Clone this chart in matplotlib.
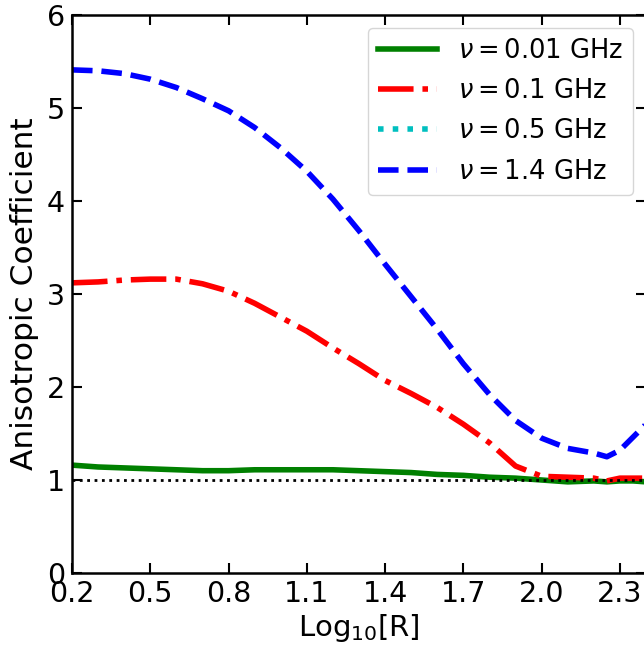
import matplotlib
matplotlib.use("Agg")
import matplotlib.pyplot as plt

# log10(R) grid
log_r = [0.2, 0.3, 0.4, 0.5, 0.6, 0.7, 0.8, 0.9, 1.0, 1.1, 1.2, 1.3, 1.4, 1.5,
         1.6, 1.7, 1.8, 1.9, 2.0, 2.1, 2.2, 2.25, 2.3, 2.35, 2.4]

# anisotropic coefficient per frequency
nu_001 = [1.16, 1.14, 1.13, 1.12, 1.11, 1.10, 1.10, 1.11, 1.11, 1.11, 1.11, 1.10,
          1.09, 1.08, 1.06, 1.05, 1.03, 1.02, 1.00, 0.98, 0.99, 0.98, 0.99, 0.99, 0.98]
nu_01 = [3.12, 3.13, 3.15, 3.16, 3.16, 3.11, 3.03, 2.90, 2.75, 2.60, 2.42, 2.25,
         2.07, 1.93, 1.78, 1.60, 1.40, 1.15, 1.04, 1.03, 1.02, 0.99, 1.02, 1.02, 1.02]
nu_05 = []  # not visible in the plotted range
nu_14 = [5.41, 5.40, 5.37, 5.31, 5.22, 5.10, 4.97, 4.79, 4.57, 4.32, 4.02, 3.68,
         3.32, 2.97, 2.62, 2.25, 1.92, 1.64, 1.45, 1.34, 1.29, 1.25, 1.32, 1.46, 1.60]

fig = plt.figure(figsize=(6.44, 6.46), dpi=100)
ax = fig.add_axes([72 / 644, 73 / 646, 574 / 644, 558 / 646])

lw = 4
ax.plot(log_r, nu_001, color='g', ls='-', lw=lw, label=r'$\nu = 0.01$ GHz')
ax.plot(log_r, nu_01, color='r', ls='-.', lw=lw, label=r'$\nu = 0.1$ GHz')
ax.plot(log_r[:len(nu_05)], nu_05, color='c', ls=':', lw=lw, label=r'$\nu = 0.5$ GHz')
ax.plot(log_r, nu_14, color='b', ls='--', lw=lw, label=r'$\nu = 1.4$ GHz')
ax.axhline(1.0, color='k', ls=':', lw=2)

ax.set_xlim(0.2, 2.4)
ax.set_ylim(0, 6)
ax.set_xticks([0.2, 0.5, 0.8, 1.1, 1.4, 1.7, 2.0, 2.3])
ax.set_xticklabels(['0.2', '0.5', '0.8', '1.1', '1.4', '1.7', '2.0', '2.3'])
ax.set_yticks([0, 1, 2, 3, 4, 5, 6])

ax.tick_params(direction='in', top=True, right=True, length=7, width=1.5,
               labelsize=20.5, pad=5)
for s in ax.spines.values():
    s.set_linewidth(1.8)

ax.set_xlabel(r'Log$_{10}$[R]', fontsize=21, labelpad=3)
ax.set_ylabel('Anisotropic Coefficient', fontsize=22.5)
ax.yaxis.set_label_coords(-0.057, 0.5)

ax.legend(loc='upper right', fontsize=18.5, borderaxespad=0.5, handlelength=2.3,
          labelspacing=0.55)

plt.savefig('out.png', dpi=100)
